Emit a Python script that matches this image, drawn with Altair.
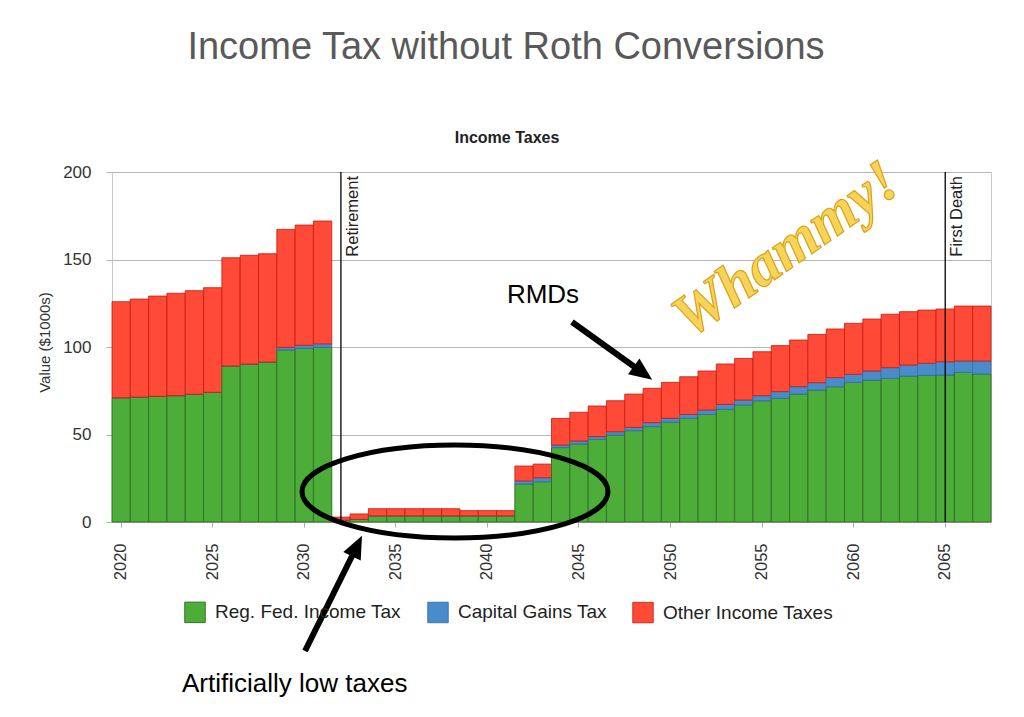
import altair as alt
import pandas as pd

years = list(range(2020, 2068))
reg_fed = [71, 71.4, 71.8, 72.2, 73, 74.1, 89.1, 90.3, 91.4, 98.3, 99.2, 99.8,
           1, 1.5, 3.5, 3.5, 3.5, 3.5, 3.5, 3.5, 3.5, 3.5,
           21.7, 23,
           42.5, 44.6, 47.2, 49.7, 52.2, 54.5, 57, 59.2, 61.5, 64.4, 66.9, 69.3,
           70.7, 73.1, 75.4, 77.3, 79.8, 81.1, 82.1, 83.4, 83.8, 84, 85.5, 84.6]
cap_gains = [0, 0, 0, 0, 0, 0, 0, 0, 0, 1.5, 1.8, 2.0,
             0, 0, 0, 0, 0, 0, 0, 0, 0, 0,
             1.8, 2.3,
             1.5, 1.7, 1.6, 1.9, 1.9, 2.3, 2.2, 2.3, 2.5, 2.8, 2.8, 2.9,
             3.8, 4.2, 4.2, 5.2, 4.6, 5.2, 6.1, 6.3, 6.9, 7.6, 6.5, 7.4]
other = [54.9, 56, 57.3, 58.5, 59.2, 59.8, 61.9, 62.1, 61.9, 67.4, 68.7, 70.2,
         1.8, 3.1, 4.1, 4.1, 4.1, 4.1, 4.1, 3.0, 3.0, 3.0,
         8.5, 7.8,
         15.2, 16.4, 17.5, 17.7, 19, 19.6, 20.6, 21.5, 22.3, 23.1, 23.8, 25.1,
         26.3, 26.7, 27.6, 27.8, 29.1, 29.7, 30.5, 30.5, 30.4, 30.1, 31.4, 31.4]

series_names = ["Reg. Fed. Income Tax", "Capital Gains Tax", "Other Income Taxes"]
fill_colors = ["#4cae38", "#4a8ccb", "#ff4a38"]
stroke_colors = ["#35702b", "#3570a8", "#c4190c"]
stroke_widths = [1, 0.8, 2]

event_years = [2032, 2065]
event_labels = ["Retirement", "First Death"]
tick_years = list(range(2020, 2066, 5))

rows = []
for i, y in enumerate(years):
    for k, (name, vals) in enumerate(zip(series_names, [reg_fed, cap_gains, other])):
        rows.append({"year": y, "series": name, "value": vals[i], "k": k})
df = pd.DataFrame(rows)

OX, OY = 112, 172
W, H = 879, 350

FONT = "Liberation Sans"

bars = alt.Chart(df).mark_bar().encode(
    x=alt.X("year:O", scale=alt.Scale(paddingInner=0, paddingOuter=0),
            axis=alt.Axis(values=tick_years, labelAngle=270, title=None,
                          labelFontSize=16.5, labelColor="#333333", labelFont=FONT,
                          tickSize=5, tickColor="#aaaaaa", labelPadding=16,
                          domain=False, grid=False)),
    y=alt.Y("value:Q", stack="zero",
            scale=alt.Scale(domain=[0, 200], nice=False),
            axis=alt.Axis(values=[0, 50, 100, 150, 200], title="Value ($1000s)",
                          titleFontSize=15, titleFontWeight="normal", titleColor="#333333",
                          titleFont=FONT, titleX=-68, titleY=170, titleAngle=270,
                          titleAlign="center", titleBaseline="middle",
                          labelFontSize=17, labelColor="#333333", labelFont=FONT,
                          tickSize=6, tickColor="#b5b5b5", labelPadding=15,
                          gridColor="#b5b5b5", domain=False)),
    color=alt.Color("series:N",
                    scale=alt.Scale(domain=series_names, range=fill_colors),
                    legend=alt.Legend(title=None, orient="none", legendX=72, legendY=429,
                                      direction="horizontal", symbolType="square",
                                      symbolSize=420, symbolStrokeWidth=0,
                                      labelFontSize=19, labelFont=FONT, labelColor="#222222",
                                      labelLimit=0, labelOffset=9, columnPadding=24)),
    stroke=alt.Stroke("series:N", scale=alt.Scale(domain=series_names, range=stroke_colors),
                      legend=None),
    strokeWidth=alt.StrokeWidth("series:N",
                                scale=alt.Scale(domain=series_names, range=stroke_widths),
                                legend=None),
    order=alt.Order("k:Q", sort="ascending"),
)

ev = pd.DataFrame({"year": event_years, "label": event_labels})
rules = alt.Chart(ev).mark_rule(color="black", strokeWidth=1.3).encode(
    x="year:O", y=alt.value(0), y2=alt.value(H))
rule_text = alt.Chart(ev).mark_text(angle=270, align="right", baseline="top", dy=4,
                                    fontSize=16.5, font=FONT, color="#222222").encode(
    x="year:O", y=alt.value(4), text="label:N")

def txt(text, x, y, **kw):
    return alt.Chart(pd.DataFrame({"t": [text]})).mark_text(**kw).encode(
        x=alt.value(x - OX), y=alt.value(y - OY), text="t:N")

title_main = txt("Income Tax without Roth Conversions", 506, 59, fontSize=38, font=FONT,
                 color="#595959", align="center", baseline="alphabetic")
title_sub = txt("Income Taxes", 507, 143, fontSize=16, font=FONT, fontWeight="bold",
                color="#222222", align="center", baseline="alphabetic")
rmds = txt("RMDs", 543, 303, fontSize=26, font=FONT, color="black",
           align="center", baseline="alphabetic")
low = txt("Artificially low taxes", 182, 692, fontSize=26, font=FONT, color="black",
          align="left", baseline="alphabetic")
whammy = txt("Whammy!", 786, 250, fontSize=60, font="Liberation Serif", fontWeight="bold",
             fontStyle="italic", color="#f7d458", stroke="#d9a21b", strokeWidth=1.2,
             angle=325, align="center", baseline="middle")

def seg(x1, y1, x2, y2):
    return alt.Chart(pd.DataFrame({"a": [0]})).mark_rule(color="black", strokeWidth=6).encode(
        x=alt.value(x1 - OX), y=alt.value(y1 - OY), x2=alt.value(x2 - OX), y2=alt.value(y2 - OY))

ARROW_PATH = "M 0 -1 L 0.85 1 L -0.85 1 Z"

def head(x, y, ang):
    return alt.Chart(pd.DataFrame({"a": [0]})).mark_point(
        shape=ARROW_PATH, filled=True, color="black", opacity=1, size=520, angle=ang).encode(
        x=alt.value(x - OX), y=alt.value(y - OY))

arrow1 = seg(572, 322, 643, 373) + head(643, 373, 126)
arrow2 = seg(305, 651, 357, 546) + head(357, 546, 26)

ellipse = alt.Chart(pd.DataFrame({"a": [0]})).mark_point(
    shape="M -1 0 A 1 0.304 0 1 1 1 0 A 1 0.304 0 1 1 -1 0 Z",
    filled=False, color="black", strokeWidth=5, opacity=1, size=306 * 306).encode(
    x=alt.value(455 - OX), y=alt.value(491.5 - OY))

chart = alt.layer(
    bars, rules, rule_text, title_main, title_sub, rmds, low, whammy,
    arrow1, arrow2, ellipse
).properties(
    width=W, height=H,
    padding={"left": OX, "top": OY, "right": 1024 - OX - W, "bottom": 717 - OY - H},
    autosize=alt.AutoSizeParams(type="none"),
    background="white",
).configure_view(stroke="#c8c8c8", strokeWidth=1)

chart.save("out.html", embed_options={"renderer": "svg", "actions": False})
